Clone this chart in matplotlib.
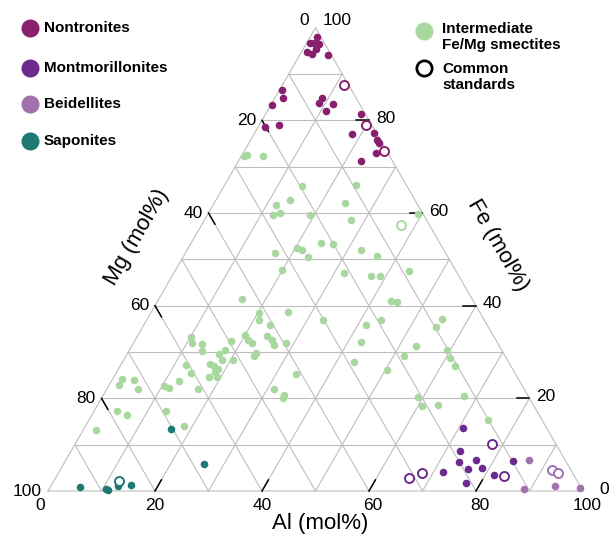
import numpy as np
import matplotlib.pyplot as plt

plt.rcParams['font.family'] = ['Liberation Sans', 'DejaVu Sans']

# compositions in mol% (Mg = 100 - Al - Fe)
nontronite_al = [1.4, 0.6, 1.4, 2.4, 2.4, 1.0, 2.2, 5.4, 0.5, 1.6, 0.3, 8.9, 8.8, 11.6, 11.0, 1.3, 3.7,
                 17.8, 18.4, 22.3, 23.6, 24.3, 24.8, 22.8]
nontronite_fe = [97.9, 96.8, 96.8, 96.4, 95.3, 94.7, 94.4, 94.0, 86.6, 84.8, 83.3, 84.8, 83.7, 83.5, 82.0, 78.5, 78.9,
                 81.3, 77.0, 77.3, 75.8, 75.2, 72.9, 71.3]
nontronite_std_al = [11.5, 20.0, 26.1]
nontronite_std_fe = [87.6, 78.9, 73.4]

montmor_al = [70.8, 72.7, 73.6, 76.7, 76.1, 78.7, 71.7, 77.2, 81.6, 83.8]
montmor_fe = [13.7, 8.6, 6.3, 6.7, 4.7, 4.9, 4.1, 1.8, 3.4, 6.4]
montmor_std_al = [77.9, 83.6, 68.0, 66.1]
montmor_std_fe = [10.1, 3.3, 3.8, 2.8]

beidellite_al = [86.6, 88.8, 94.2, 99.0]
beidellite_fe = [6.6, 0.5, 1.1, 0.7]
beidellite_std_al = [91.9, 93.4]
beidellite_std_fe = [4.6, 3.8]

saponite_al = [5.6, 10.5, 11.0, 12.6, 15.0, 16.3, 26.2]
saponite_fe = [0.8, 0.5, 0.3, 1.0, 1.2, 13.4, 5.9]
saponite_std_al = [12.3]
saponite_std_fe = [2.1]

inter_al = [0.4, 0.9, 3.9, 14.6, 13.7, 11.8, 12.3, 13.3, 19.2, 24.5,
            24.4, 27.4, 39.3, 24.3, 26.5, 20.4, 21.5, 23.3, 16.8, 32.5,
            36.1, 20.0, 31.8, 37.1, 38.8, 43.7, 15.5, 43.5, 44.9, 25.6,
            20.2, 21.0, 23.6, 33.0, 41.5, 43.8, 55.1, 54.8, 10.1, 11.0,
            13.0, 13.7, 18.1, 20.1, 21.0, 22.2, 24.2, 25.5, 26.5, 28.5,
            42.5, 53.1, 17.8, 17.1, 18.3, 20.4, 23.9, 23.9, 16.5, 17.6,
            18.6, 18.3, 17.8, 19.2, 14.1, 17.1, 43.3, 50.3, 52.0, 59.3,
            60.8, 62.5, 33.7, 31.3, 33.8, 33.9, 59.0, 60.8, 63.6, 67.5,
            12.2, 12.5, 10.4, 11.6, 1.8, 1.8, 4.1, 5.9, 4.2, 6.6,
            13.5, 18.4, 2.3, 74.5]
inter_fe = [72.3, 72.6, 72.4, 65.8, 62.9, 61.8, 59.6, 60.1, 59.6, 66.0,
            62.2, 58.5, 59.8, 53.6, 53.4, 52.4, 52.0, 50.5, 51.4, 52.1,
            50.7, 47.6, 47.0, 46.5, 46.4, 47.5, 41.5, 41.1, 40.8, 38.6,
            38.4, 36.9, 35.8, 36.8, 35.9, 36.8, 37.1, 35.5, 33.3, 32.0,
            31.7, 30.2, 32.3, 33.6, 32.6, 31.9, 33.4, 32.6, 31.6, 31.9,
            32.1, 31.4, 30.5, 29.6, 28.3, 28.3, 29.8, 29.1, 27.4, 27.0,
            26.3, 25.7, 24.5, 24.7, 25.4, 22.0, 27.8, 26.2, 29.2, 30.4,
            28.6, 27.0, 25.3, 22.0, 20.7, 20.0, 20.2, 18.3, 18.6, 20.5,
            27.1, 23.8, 22.7, 22.2, 24.1, 22.9, 23.9, 22.0, 17.3, 16.4,
            17.2, 14.0, 13.2, 15.4]
inter_std_al = [37.2]
inter_std_fe = [57.4]

groups = ["Nontronites", "Montmorillonites", "Beidellites", "Saponites"]
colors = {"Nontronites": "#88206e", "Montmorillonites": "#6c2a8e",
          "Beidellites": "#a072ae", "Saponites": "#1f7872",
          "Intermediate": "#a8d8a0"}

H = np.sqrt(3) / 2
S = 5.35  # pixels per unit


def tern(al, fe):
    al = np.asarray(al, float)
    fe = np.asarray(fe, float)
    return al + fe / 2, fe * H


def P(x, y):
    # pixel position (from top-left) -> data coords
    return (x - 48) / S, (491 - y) / S


fig = plt.figure(figsize=(6.09, 5.38), dpi=100)
ax = fig.add_axes([0, 0, 1, 1])
ax.set_xlim(-48 / S, (609 - 48) / S)
ax.set_ylim(-47 / S, (538 - 47) / S)
ax.axis('off')

grid_kw = dict(color='#bdbdbd', lw=0.8, zorder=1)
for v in range(10, 100, 10):
    ax.plot(*tern([0, 100 - v], [v, v]), **grid_kw)
    ax.plot(*tern([v, v], [0, 100 - v]), **grid_kw)
    ax.plot(*tern([100 - v, 0], [0, 100 - v]), **grid_kw)
ax.plot(*tern([0, 100, 0, 0], [0, 0, 100, 0]), **grid_kw)

# ticks
L = 2.4
tick_kw = dict(color='black', lw=1.1, zorder=2)
for v in [20, 40, 60, 80]:
    ax.plot(*tern([v, v], [0, L]), **tick_kw)
    ax.plot(*tern([100 - v, 100 - v - L], [v, v]), **tick_kw)
    ax.plot(*tern([0, L], [100 - v, 100 - v - L]), **tick_kw)

fs = 12.5
for v in range(0, 101, 20):
    x, y = tern(v, 0)
    shift = -8 if v == 0 else (4 if v >= 60 else 0)
    ax.text(x + shift / S, y - 15 / S, str(v), ha='center', va='center', fontsize=fs)
    x, y = tern(100 - v, v)
    lift = 7 if v == 100 else 2
    gap = 16 if v == 0 else 7
    ax.text(x + gap / S, y + lift / S, str(v), ha='left', va='center', fontsize=fs)
    x, y = tern(0, 100 - v)
    lift = 7 if v == 0 else 0
    ax.text(x - 6 / S, y + lift / S, str(v), ha='right', va='center', fontsize=fs)

ax.text(*P(320, 524), "Al (mol%)", ha='center', va='center', fontsize=16)
ax.text(*P(137, 237), "Mg (mol%)", ha='center', va='center', fontsize=16, rotation=60)
ax.text(*P(498, 245), "Fe (mol%)", ha='center', va='center', fontsize=16, rotation=-60)

dot = dict(s=30, linewidths=0, zorder=3)
ring = dict(s=42, facecolors='white', linewidths=1.4, zorder=4)

ax.scatter(*tern(inter_al, inter_fe), color=colors["Intermediate"], **dot)
ax.scatter(*tern(inter_std_al, inter_std_fe), edgecolors=colors["Intermediate"], **ring)
ax.scatter(*tern(nontronite_al, nontronite_fe), color=colors["Nontronites"], **dot)
ax.scatter(*tern(nontronite_std_al, nontronite_std_fe), edgecolors=colors["Nontronites"], **ring)
ax.scatter(*tern(montmor_al, montmor_fe), color=colors["Montmorillonites"], **dot)
ax.scatter(*tern(montmor_std_al, montmor_std_fe), edgecolors=colors["Montmorillonites"], **ring)
ax.scatter(*tern(beidellite_al, beidellite_fe), color=colors["Beidellites"], **dot)
ax.scatter(*tern(beidellite_std_al, beidellite_std_fe), edgecolors=colors["Beidellites"], **ring)
ax.scatter(*tern(saponite_al, saponite_fe), color=colors["Saponites"], **dot)
ax.scatter(*tern(saponite_std_al, saponite_std_fe), edgecolors=colors["Saponites"], **ring)

# legend
leg_font = dict(fontsize=11, fontweight='bold', va='center', ha='left')
for name, ypx in zip(groups, [28, 68, 104, 141]):
    ax.plot(*P(30, ypx), 'o', ms=13, color=colors[name], mew=0)
    ax.text(*P(44, ypx), name, **leg_font)
ax.plot(*P(424, 31), 'o', ms=13, color=colors["Intermediate"], mew=0)
ax.text(*P(442, 37), "Intermediate\nFe/Mg smectites", linespacing=1.1, **leg_font)
ax.plot(*P(424, 68), 'o', ms=11, mfc='white', mec='black', mew=2)
ax.text(*P(442, 77), "Common\nstandards", linespacing=1.1, **leg_font)

fig.savefig("out.png", dpi=100)
